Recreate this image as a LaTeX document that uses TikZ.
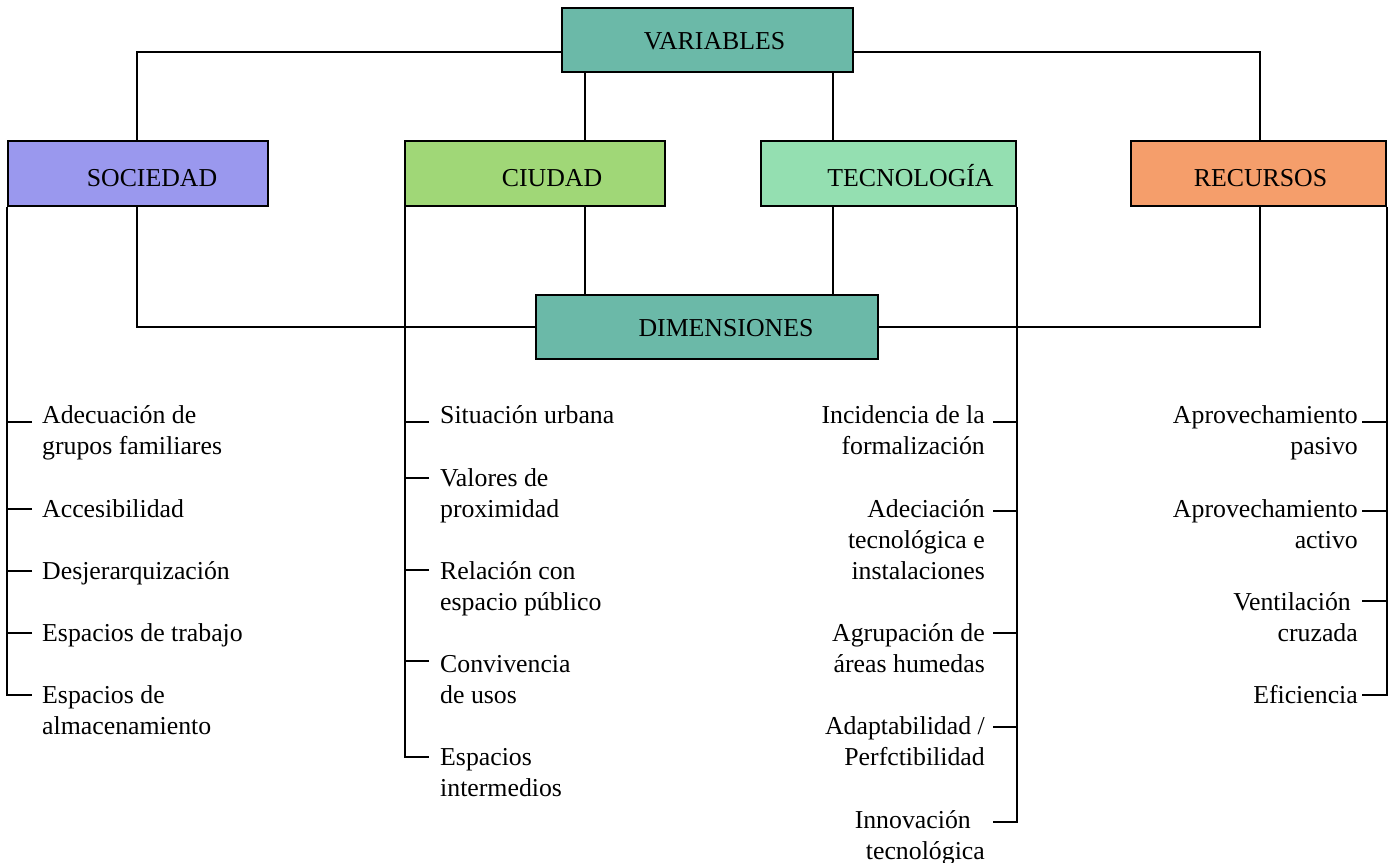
\documentclass[tikz,border=0pt]{standalone}
\usepackage{fontspec}
\setmainfont{Liberation Serif}
\definecolor{cteal}{HTML}{6BB9A8}
\definecolor{csoc}{HTML}{9A98EE}
\definecolor{cciu}{HTML}{A0D777}
\definecolor{ctec}{HTML}{94DFB1}
\definecolor{crec}{HTML}{F59E6B}
\begin{document}
\begin{tikzpicture}[x=1pt,y=-1pt,
  every node/.style={font=\fontsize{25.8pt}{31pt}\selectfont, inner sep=0pt},
  box/.style={draw=black, line width=1.6pt, minimum height=65pt, text height=25pt, text depth=0pt},
  topbox/.style={box, minimum height=64pt, text height=19pt},
  link/.style={draw=black, line width=1.6pt},
  iteml/.style={anchor=base west, align=left},
  itemr/.style={anchor=base east, align=right}]
\useasboundingbox (0,0) rectangle (1391,862);
% boxes
\node[topbox, fill=cteal, minimum width=291pt] (var) at (707.5,40) {\hspace*{14pt}VARIABLES};
\node[box, fill=csoc, minimum width=260pt] (soc) at (138,173.5) {\hspace*{28pt}SOCIEDAD};
\node[box, fill=cciu, minimum width=260pt] (ciu) at (535,173.5) {\hspace*{34pt}CIUDAD};
\node[box, fill=ctec, minimum width=255pt] (tec) at (888.5,173.5) {\hspace*{44pt}TECNOLOGÍA};
\node[box, fill=crec, minimum width=255pt] (rec) at (1258.5,173.5) {\hspace*{4pt}RECURSOS};
\node[topbox, fill=cteal, minimum width=342pt] (dim) at (707,327) {\hspace*{38pt}DIMENSIONES};
% column coordinates
\coordinate (c137) at (137,0);
\coordinate (c585) at (585,0);
\coordinate (c833) at (833,0);
\coordinate (c1260) at (1260,0);
% connectors variables -> boxes
\draw[link] ([yshift=-12pt]var.west) -| (soc.north -| c137);
\draw[link] ([yshift=-12pt]var.east) -| (rec.north -| c1260);
\draw[link] (var.south -| c585) -- (ciu.north -| c585);
\draw[link] (var.south -| c833) -- (tec.north -| c833);
% connectors boxes -> dimensiones
\draw[link] (soc.south -| c137) |- (dim.west);
\draw[link] (rec.south -| c1260) |- (dim.east);
\draw[link] (ciu.south -| c585) -- (dim.north -| c585);
\draw[link] (tec.south -| c833) -- (dim.north -| c833);
% SOCIEDAD items (base = baseline of last line)
\node[iteml] (s1) at (42,454) {Adecuación de\\grupos familiares};
\node[iteml] (s2) at (42,517) {Accesibilidad};
\node[iteml] (s3) at (42,579) {Desjerarquización};
\node[iteml] (s4) at (42,641) {Espacios de trabajo};
\node[iteml] (s5) at (42,734) {Espacios de\\almacenamiento};
\coordinate (st1) at (32,422);
\coordinate (st2) at (32,509);
\coordinate (st3) at (32,571);
\coordinate (st4) at (32,633);
\coordinate (st5) at (32,695);
\draw[link] (soc.south west) |- (st5);
\foreach \i in {1,...,4} \draw[link] (st\i) -- (st\i -| soc.south west);
% CIUDAD items
\node[iteml] (c1) at (440,423) {Situación urbana};
\node[iteml] (c2) at (440,517) {Valores de\\proximidad};
\node[iteml] (c3) at (440,610) {Relación con\\espacio público};
\node[iteml] (c4) at (440,703) {Convivencia\\de usos};
\node[iteml] (c5) at (440,796) {Espacios\\intermedios};
\coordinate (ct1) at (429,422);
\coordinate (ct2) at (429,478);
\coordinate (ct3) at (429,570);
\coordinate (ct4) at (429,661);
\coordinate (ct5) at (429,757);
\draw[link] ([xshift=1pt]ciu.south west) |- (ct5);
\foreach \i in {1,...,4} \draw[link] (ct\i) -- (ct\i -| ciu.south west);
% TECNOLOGIA items
\node[itemr] (t1) at (985,454) {Incidencia de la\\formalización};
\node[itemr] (t2) at (985,579) {Adeciación\\tecnológica e\\instalaciones};
\node[itemr] (t3) at (985,672) {Agrupación de\\áreas humedas};
\node[itemr] (t4) at (985,765) {Adaptabilidad /\\Perfctibilidad};
\node[itemr] (t5) at (985,859) {Innovación\hspace*{14pt}\\tecnológica};
\coordinate (tt1) at (993,422);
\coordinate (tt2) at (993,511);
\coordinate (tt3) at (993,633);
\coordinate (tt4) at (993,727);
\coordinate (tt5) at (993,822);
\draw[link] (tec.south east) |- (tt5);
\foreach \i in {1,...,4} \draw[link] (tt\i) -- (tt\i -| tec.south east);
% RECURSOS items
\node[itemr] (r1) at (1358,454) {Aprovechamiento\\pasivo};
\node[itemr] (r2) at (1358,548) {Aprovechamiento\\activo};
\node[itemr] (r3) at (1358,641) {Ventilación\hspace*{7pt}\\cruzada};
\node[itemr] (r4) at (1358,703) {Eficiencia};
\coordinate (rt1) at (1362,422);
\coordinate (rt2) at (1362,511);
\coordinate (rt3) at (1362,601);
\coordinate (rt4) at (1362,695);
\draw[link] (rec.south east) |- (rt4);
\foreach \i in {1,...,3} \draw[link] (rt\i) -- (rt\i -| rec.south east);
\end{tikzpicture}
\end{document}
